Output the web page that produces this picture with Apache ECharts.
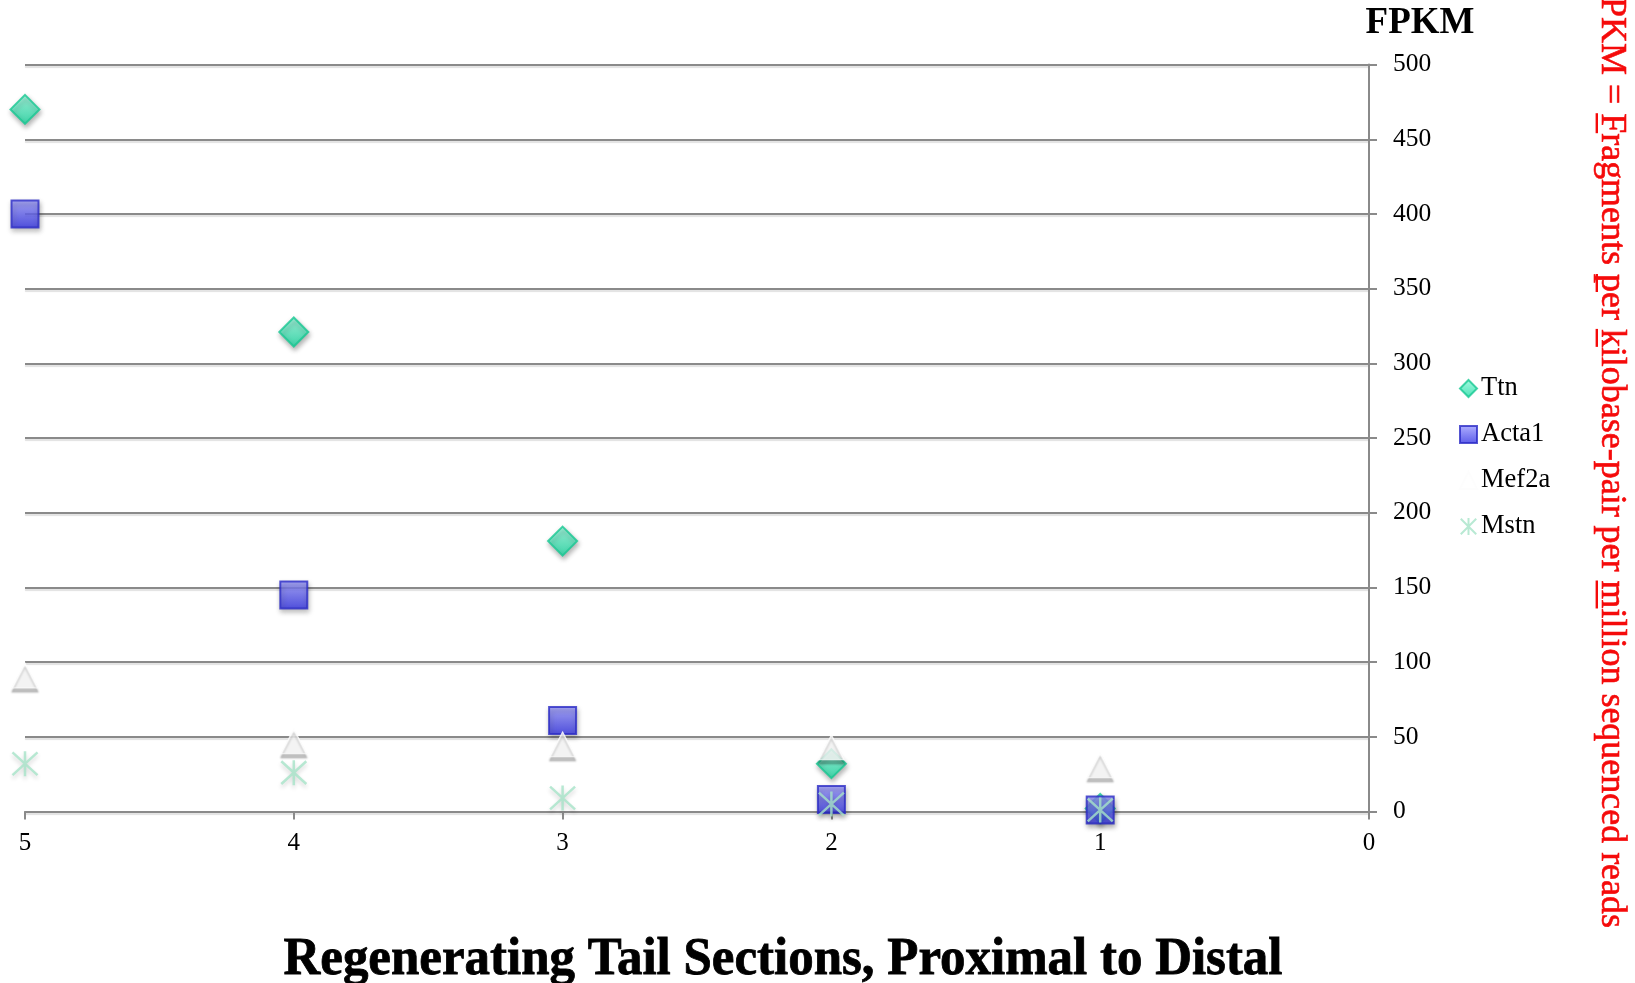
<!DOCTYPE html>
<html><head><meta charset="utf-8">
<script src="https://cdn.jsdelivr.net/npm/echarts@6/dist/echarts.min.js"></script>
<style>html,body{margin:0;padding:0;background:#fff}#c{width:1635px;height:983px}</style>
</head><body><div id="c"></div>
<script>
// ---- data ----
const sections = [5, 4, 3, 2, 1];
const seriesNames = ['Ttn', 'Acta1', 'Mef2a', 'Mstn'];
const ttn   = [470, 321, 181, 32, 2];
const acta1 = [400, 145, 61, 8, 1];
const mef2a = [91, 47, 45, 43, 31];
const mstn  = [32, 26, 9, 5, 1];
const yMax = 500, yStep = 50;
const xMin = 0, xMax = 5, xStep = 1;
const yTitle = 'FPKM';
const xTitle = 'Regenerating Tail Sections, Proximal to Distal';
const noteText = 'FPKM = Fragments per kilobase-pair per million sequenced reads';
const noteUnderlined = ['Fragments', 'per', 'kilobase', 'million'];

// ---- styling ----
const SERIF = 'Liberation Serif';
const GRID = { left: 25, right: 266, top: 64.6, bottom: 171.5 };
const axisGray = '#8a8a8a';
const shadow = { shadowColor: 'rgba(0,0,0,0.35)', shadowBlur: 5, shadowOffsetY: 3, shadowOffsetX: 1 };
const asterisk = 'path://M0,0L20,20M20,0L0,20M10,-1L10,21';
const RED = '#f50a0a';

function pts(vals) { return sections.map((s, i) => [s, vals[i]]); }

const chart = echarts.init(document.getElementById('c'), null, { renderer: 'canvas' });

const mctx = document.createElement('canvas').getContext('2d');
function measure(font, t) { mctx.font = font; return mctx.measureText(t).width; }

// bottom title scaled to fit reference width
const xtFont = 'bold 53px "' + SERIF + '"';
const xtScale = 999 / measure(xtFont, xTitle);

// red note (rotated)
const nfs = 35;
const nFont = nfs + 'px "' + SERIF + '"';
const wF = measure(nFont, 'F');
const wAll = measure(nFont, noteText);
const nScale = 931 / (wAll - wF);
const nStart = -3 - nScale * wF;
const underlineRects = [];
let searchFrom = 0;
noteUnderlined.forEach(w => {
  const idx = noteText.indexOf(w, searchFrom);
  searchFrom = idx + w.length;
  const x0 = measure(nFont, noteText.slice(0, idx));
  const wl = measure(nFont, noteText[idx]);
  underlineRects.push({ type: 'rect', shape: { x: x0, y: 2, width: wl, height: 2.4 }, style: { fill: RED } });
});

const option = {
  backgroundColor: '#ffffff',
  animation: false,
  grid: Object.assign({ containLabel: false }, GRID),
  xAxis: {
    type: 'value', min: xMin, max: xMax, interval: xStep, inverse: true,
    axisLine: { show: true, lineStyle: { color: axisGray, width: 2 } },
    axisTick: { show: true, length: 8, lineStyle: { color: axisGray, width: 2 } },
    splitLine: { show: false },
    axisLabel: { margin: 19, fontFamily: SERIF, fontSize: 25, color: '#000' }
  },
  yAxis: {
    type: 'value', position: 'right', min: 0, max: yMax, interval: yStep,
    axisLine: { show: true, lineStyle: { color: axisGray, width: 2 } },
    axisTick: { show: true, length: 8, lineStyle: { color: axisGray, width: 2 } },
    splitLine: { show: true, lineStyle: { color: axisGray, width: 2, shadowColor: 'rgba(0,0,0,0.12)', shadowOffsetY: 2, shadowBlur: 1 } },
    axisLabel: { margin: 24, fontFamily: SERIF, fontSize: 25.5, color: '#000' }
  },
  legend: {
    orient: 'vertical', left: 1454, top: 370,
    itemWidth: 17, itemHeight: 17, itemGap: 19,
    textStyle: { fontFamily: SERIF, fontSize: 26.5, color: '#000', lineHeight: 26, padding: [0, 0, 0, -1] },
    data: [
      { name: 'Ttn', icon: 'diamond' },
      { name: 'Acta1', icon: 'rect' },
      { name: 'Mef2a', icon: 'triangle' },
      { name: 'Mstn', icon: asterisk }
    ]
  },
  series: [
    {
      name: seriesNames[0], type: 'scatter', clip: false, symbol: 'diamond', symbolSize: 29,
      data: pts(ttn),
      itemStyle: Object.assign({
        color: { type: 'linear', x: 0, y: 0, x2: 0, y2: 1, colorStops: [{ offset: 0, color: '#93f9da' }, { offset: 1, color: '#1ddba4' }] },
        borderColor: '#16c892', borderWidth: 2
      }, shadow)
    },
    {
      name: seriesNames[1], type: 'scatter', clip: false, symbol: 'rect', symbolSize: 27,
      data: pts(acta1),
      itemStyle: Object.assign({
        color: { type: 'linear', x: 0, y: 0, x2: 0, y2: 1, colorStops: [{ offset: 0, color: '#9c9cff' }, { offset: 1, color: '#3333e4' }] },
        borderColor: '#2a2ac6', borderWidth: 2
      }, shadow)
    },
    {
      name: seriesNames[2], type: 'scatter', clip: false, symbol: 'triangle', symbolSize: [26, 25],
      data: pts(mef2a),
      itemStyle: { color: '#ffffff', borderColor: '#fdfdfd', borderWidth: 1, shadowColor: 'rgba(0,0,0,0.3)', shadowBlur: 2, shadowOffsetY: 4, shadowOffsetX: 0 }
    },
    {
      name: seriesNames[3], type: 'scatter', clip: false, symbol: asterisk, symbolSize: 25,
      data: pts(mstn),
      itemStyle: { color: 'transparent', borderColor: '#a6e3c8', borderWidth: 2.5, shadowColor: 'rgba(0,0,0,0.2)', shadowBlur: 4, shadowOffsetY: 3 }
    }
  ],
  graphic: [
    { type: 'text', x: 1420, y: 23, style: { text: yTitle, font: 'bold 37px "' + SERIF + '"', fill: '#000', align: 'center', verticalAlign: 'middle' } },
    { type: 'text', x: 783, y: 960, scaleX: xtScale, style: { text: xTitle, font: xtFont, fill: '#000', stroke: '#000', lineWidth: 0.8, align: 'center', verticalAlign: 'middle' } },
    {
      type: 'group', x: 1600, y: nStart, rotation: -Math.PI / 2, scaleX: nScale,
      children: [
        { type: 'text', style: { x: 0, y: -0.33 * nfs, text: noteText, font: nFont, fill: RED, stroke: RED, lineWidth: 0.6, align: 'left', verticalAlign: 'middle' } }
      ].concat(underlineRects)
    }
  ]
};
chart.setOption(option);
</script>
</body></html>
